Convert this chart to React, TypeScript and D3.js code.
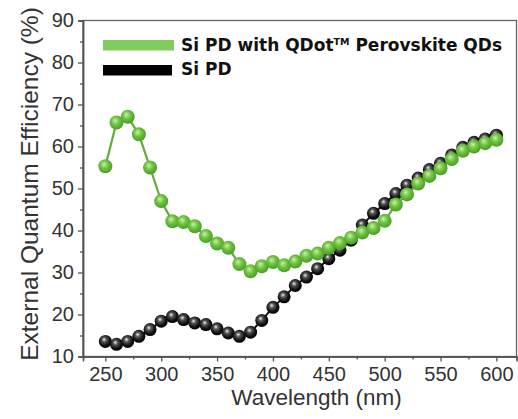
import React, { useEffect, useRef } from "react";
import * as d3 from "d3";

const wavelengths = d3.range(250, 601, 10);
const qdotEqe = [55.3, 65.7, 67.1, 62.9, 55.0, 47.0, 42.2, 42.0, 41.0, 38.7, 36.9, 35.9, 32.0, 30.3, 31.5, 32.5, 31.7, 32.6, 34.0, 34.5, 35.9, 37.0, 38.3, 39.5, 40.6, 42.3, 46.2, 48.6, 51.2, 53.0, 54.8, 57.0, 59.0, 60.0, 60.8, 61.6];
const siEqe = [13.6, 12.9, 13.6, 14.8, 16.4, 18.4, 19.5, 18.8, 18.0, 17.6, 16.6, 15.6, 14.8, 15.8, 18.6, 21.7, 24.2, 26.9, 28.9, 30.9, 33.3, 35.3, 37.7, 41.3, 44.1, 46.4, 48.8, 50.8, 52.5, 54.5, 56.0, 58.0, 59.8, 61.0, 61.8, 62.7];
const xTicks = [250, 300, 350, 400, 450, 500, 550, 600];
const yTicks = [10, 20, 30, 40, 50, 60, 70, 80, 90];

export default function App() {
  const svgRef = useRef<SVGSVGElement>(null);

  useEffect(() => {
    const width = 518;
    const height = 419;
    const m = { left: 83, right: 1.5, top: 20.5, bottom: 62.5 };

    const svg = d3.select(svgRef.current);
    svg.selectAll("*").remove();

    const defs = svg.append("defs");
    const gGreen = defs.append("radialGradient").attr("id", "ballGreen")
      .attr("cx", "45%").attr("cy", "42%").attr("r", "60%").attr("fx", "40%").attr("fy", "35%");
    gGreen.append("stop").attr("offset", "0%").attr("stop-color", "#c8f2a6");
    gGreen.append("stop").attr("offset", "45%").attr("stop-color", "#72c444");
    gGreen.append("stop").attr("offset", "100%").attr("stop-color", "#469a22");
    const gBlack = defs.append("radialGradient").attr("id", "ballBlack")
      .attr("cx", "45%").attr("cy", "42%").attr("r", "60%").attr("fx", "40%").attr("fy", "35%");
    gBlack.append("stop").attr("offset", "0%").attr("stop-color", "#f0f0f0");
    gBlack.append("stop").attr("offset", "30%").attr("stop-color", "#555");
    gBlack.append("stop").attr("offset", "70%").attr("stop-color", "#111");
    gBlack.append("stop").attr("offset", "100%").attr("stop-color", "#000");

    svg.append("rect").attr("width", width).attr("height", height).attr("fill", "#fff");

    const x = d3.scaleLinear().domain([230, 618]).range([m.left, width - m.right]);
    const y = d3.scaleLinear().domain([10, 90]).range([height - m.bottom, m.top]);

    // frame
    svg.append("rect")
      .attr("x", m.left).attr("y", m.top)
      .attr("width", width - m.right - m.left).attr("height", height - m.bottom - m.top)
      .attr("fill", "none").attr("stroke", "#666").attr("stroke-width", 1.3);

    const font = "'Liberation Sans', Arial, sans-serif";

    const xAxis = svg.append("g")
      .attr("transform", `translate(0, ${height - m.bottom})`)
      .call(d3.axisBottom(x).tickValues(xTicks).tickSize(5).tickPadding(5).tickFormat(d3.format("d")));
    const xMinor = svg.append("g")
      .attr("transform", `translate(0, ${height - m.bottom})`)
      .call(d3.axisBottom(x).tickValues(d3.range(275, 601, 50)).tickSize(3).tickFormat(() => ""));

    const yAxis = svg.append("g")
      .attr("transform", `translate(${m.left}, 0)`)
      .call(d3.axisLeft(y).tickValues(yTicks).tickSize(5).tickPadding(4).tickFormat(d3.format("d")));
    const yMinor = svg.append("g")
      .attr("transform", `translate(${m.left}, 0)`)
      .call(d3.axisLeft(y).tickValues(d3.range(15, 90, 10)).tickSize(3).tickFormat(() => ""));

    [xAxis, xMinor, yAxis, yMinor].forEach(g => {
      g.select(".domain").attr("stroke", "#555").attr("stroke-width", 1.5);
      g.selectAll(".tick line").attr("stroke", "#555").attr("stroke-width", 1.3);
      g.selectAll("text").attr("font-family", font).attr("font-size", 20).attr("fill", "#333");
    });

    const line = d3.line<number>()
      .x((d, i) => x(wavelengths[i]))
      .y(d => y(d));

    svg.append("path").datum(siEqe).attr("d", line)
      .attr("fill", "none").attr("stroke", "#111").attr("stroke-width", 2);
    svg.append("g").selectAll("circle").data(siEqe).join("circle")
      .attr("cx", (d, i) => x(wavelengths[i])).attr("cy", d => y(d))
      .attr("r", 6.5).attr("fill", "url(#ballBlack)");

    svg.append("path").datum(qdotEqe).attr("d", line)
      .attr("fill", "none").attr("stroke", "#5eae38").attr("stroke-width", 2.2);
    svg.append("g").selectAll("circle").data(qdotEqe).join("circle")
      .attr("cx", (d, i) => x(wavelengths[i])).attr("cy", d => y(d))
      .attr("r", 7).attr("fill", "url(#ballGreen)");

    // legend
    const legendFont = "'DejaVu Sans', Verdana, sans-serif";
    svg.append("rect").attr("x", 103).attr("y", 40).attr("width", 71).attr("height", 10.5).attr("fill", "#80cc5c");
    svg.append("rect").attr("x", 103).attr("y", 65).attr("width", 69).attr("height", 10.5).attr("fill", "#000");
    const t1 = svg.append("text").attr("x", 181).attr("y", 51)
      .attr("font-family", legendFont).attr("font-weight", "bold").attr("font-size", 17).attr("fill", "#111");
    t1.append("tspan").text("Si PD with QDot");
    t1.append("tspan").attr("font-size", 9.5).attr("dy", -6).text("TM");
    t1.append("tspan").attr("dy", 6).text(" Perovskite QDs");
    svg.append("text").attr("x", 181).attr("y", 75)
      .attr("font-family", legendFont).attr("font-weight", "bold").attr("font-size", 17).attr("fill", "#111")
      .text("Si PD");

    // axis titles
    svg.append("text")
      .attr("x", (m.left + width) / 2 + 16).attr("y", 405)
      .attr("text-anchor", "middle").attr("font-family", font).attr("font-size", 22.5).attr("fill", "#333")
      .text("Wavelength (nm)");
    svg.append("text")
      .attr("transform", `translate(38, ${184}) rotate(-90)`)
      .attr("text-anchor", "middle").attr("font-family", font).attr("font-size", 24.5).attr("fill", "#333")
      .text("External Quantum Efficiency (%)");
  }, []);

  return (
    <div style={{ position: "absolute", left: 0, top: 0 }}>
      <svg ref={svgRef} width={518} height={419} style={{ display: "block" }}></svg>
    </div>
  );
}
